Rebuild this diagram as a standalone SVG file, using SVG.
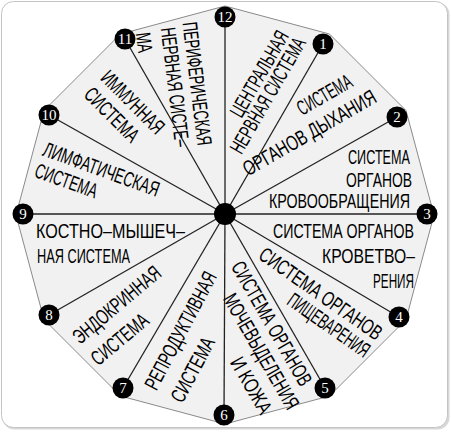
<svg xmlns="http://www.w3.org/2000/svg" width="451" height="432" viewBox="0 0 451 432">
<style>
.t{font-family:"Liberation Sans","DejaVu Sans",sans-serif;font-size:21px;fill:#000}
.m{text-anchor:middle}
.n{font-family:"Liberation Serif","DejaVu Serif",serif;font-size:15px;fill:#fff;text-anchor:middle}
.dot{fill:#000}
.spoke{stroke:#222;stroke-width:1.3;fill:none}
</style>
<rect x="2.5" y="2.5" width="447" height="427" rx="12" fill="#d8d8d8"/>
<rect x="1.5" y="1.5" width="446" height="426" rx="12" fill="#fff" stroke="#c4c4c4" stroke-width="1"/>
<polygon id="plate" points="225,6 329.5,34 406,110.5 434,215 406,319.5 329.5,396 225,424 120.5,396 44,319.5 16,215 44,110.5 120.5,34" fill="#f1f1f1" stroke="#8a8a8a" stroke-width="1"/>
<g id="connectors" class="spoke">
<line x1="225" y1="214" x2="225" y2="17"/>
<line x1="225" y1="214" x2="323" y2="44"/>
<line x1="225" y1="214" x2="397" y2="117"/>
<line x1="225" y1="214" x2="427" y2="214"/>
<line x1="225" y1="214" x2="399" y2="317"/>
<line x1="225" y1="214" x2="325" y2="388"/>
<line x1="225" y1="214" x2="224" y2="415"/>
<line x1="225" y1="214" x2="123" y2="388"/>
<line x1="225" y1="214" x2="49" y2="315"/>
<line x1="225" y1="214" x2="23" y2="214"/>
<line x1="225" y1="214" x2="49" y2="115"/>
<line x1="225" y1="214" x2="125" y2="39"/>
</g>
<g id="hub"><circle class="dot" cx="225" cy="214" r="11"/></g>
<g id="v12"><circle class="dot" cx="225" cy="17" r="10.5"/><text class="n" x="225" y="22">12</text></g>
<g id="v1"><circle class="dot" cx="323" cy="44" r="10.5"/><text class="n" x="323" y="49">1</text></g>
<g id="v2"><circle class="dot" cx="397" cy="117" r="10.5"/><text class="n" x="397" y="122">2</text></g>
<g id="v3"><circle class="dot" cx="427" cy="214" r="10.5"/><text class="n" x="427" y="219">3</text></g>
<g id="v4"><circle class="dot" cx="399" cy="317" r="10.5"/><text class="n" x="399" y="322">4</text></g>
<g id="v5"><circle class="dot" cx="325" cy="388" r="10.5"/><text class="n" x="325" y="393">5</text></g>
<g id="v6"><circle class="dot" cx="224" cy="415" r="10.5"/><text class="n" x="224" y="420">6</text></g>
<g id="v7"><circle class="dot" cx="123" cy="388" r="10.5"/><text class="n" x="123" y="393">7</text></g>
<g id="v8"><circle class="dot" cx="49" cy="315" r="10.5"/><text class="n" x="49" y="320">8</text></g>
<g id="v9"><circle class="dot" cx="23" cy="214" r="10.5"/><text class="n" x="23" y="219">9</text></g>
<g id="v10"><circle class="dot" cx="49" cy="115" r="10.5"/><text class="n" x="49" y="120">10</text></g>
<g id="v11"><circle class="dot" cx="125" cy="39" r="10.5"/><text class="n" x="125" y="44">11</text></g>

<g id="s-cns">
<text class="t m" transform="translate(265.5,77.5) rotate(-60)" textLength="96" lengthAdjust="spacingAndGlyphs">ЦЕНТРАЛЬНАЯ</text>
<text class="t m" transform="translate(274,99) rotate(-60)" textLength="130" lengthAdjust="spacingAndGlyphs">НЕРВНАЯ СИСТЕМА</text>
</g>
<g id="s-resp">
<text class="t m" transform="translate(328,101) rotate(-30)" textLength="60" lengthAdjust="spacingAndGlyphs">СИСТЕМА</text>
<text class="t m" transform="translate(313,139) rotate(-30)" textLength="150" lengthAdjust="spacingAndGlyphs">ОРГАНОВ ДЫХАНИЯ</text>
</g>
<g id="s-circ">
<text class="t" x="348" y="164" textLength="62" lengthAdjust="spacingAndGlyphs">СИСТЕМА</text>
<text class="t" x="346" y="187" textLength="66" lengthAdjust="spacingAndGlyphs">ОРГАНОВ</text>
<text class="t" x="269" y="208" textLength="141" lengthAdjust="spacingAndGlyphs">КРОВООБРАЩЕНИЯ</text>
</g>
<g id="s-hema">
<text class="t" x="273" y="238" textLength="141" lengthAdjust="spacingAndGlyphs">СИСТЕМА ОРГАНОВ</text>
<text class="t" x="322" y="263" textLength="93" lengthAdjust="spacingAndGlyphs">КРОВЕТВО–</text>
<text class="t" x="373" y="288" textLength="41" lengthAdjust="spacingAndGlyphs">РЕНИЯ</text>
</g>
<g id="s-dig">
<text class="t m" transform="translate(316.7,299.6) rotate(35)" textLength="145" lengthAdjust="spacingAndGlyphs">СИСТЕМА ОРГАНОВ</text>
<text class="t m" transform="translate(324.7,331) rotate(35)" textLength="95" lengthAdjust="spacingAndGlyphs">ПИЩЕВАРЕНИЯ</text>
</g>
<g id="s-excr">
<text class="t m" transform="translate(265.5,327) rotate(60)" textLength="140" lengthAdjust="spacingAndGlyphs">СИСТЕМА ОРГАНОВ</text>
<text class="t m" transform="translate(255,355) rotate(60)" textLength="130" lengthAdjust="spacingAndGlyphs">МОЧЕВЫДЕЛЕНИЯ</text>
<text class="t m" transform="translate(245,389) rotate(60)" textLength="62" lengthAdjust="spacingAndGlyphs">И КОЖА</text>
</g>
<g id="s-repr">
<text class="t m" transform="translate(187,334) rotate(-62)" textLength="130" lengthAdjust="spacingAndGlyphs">РЕПРОДУКТИВНАЯ</text>
<text class="t m" transform="translate(199,373) rotate(-62)" textLength="70" lengthAdjust="spacingAndGlyphs">СИСТЕМА</text>
</g>
<g id="s-endo">
<text class="t m" transform="translate(121.3,310.2) rotate(-40)" textLength="108" lengthAdjust="spacingAndGlyphs">ЭНДОКРИННАЯ</text>
<text class="t m" transform="translate(124.3,344.7) rotate(-40)" textLength="68" lengthAdjust="spacingAndGlyphs">СИСТЕМА</text>
</g>
<g id="s-musc">
<text class="t" x="36" y="238" textLength="149" lengthAdjust="spacingAndGlyphs">КОСТНО–МЫШЕЧ–</text>
<text class="t" x="37" y="263" textLength="93" lengthAdjust="spacingAndGlyphs">НАЯ СИСТЕМА</text>
</g>
<g id="s-lymph">
<text class="t m" transform="translate(98.9,176) rotate(20)" textLength="122" lengthAdjust="spacingAndGlyphs">ЛИМФАТИЧЕСКАЯ</text>
<text class="t m" transform="translate(63.9,187.5) rotate(20)" textLength="65" lengthAdjust="spacingAndGlyphs">СИСТЕМА</text>
</g>
<g id="s-imm">
<text class="t m" transform="translate(127.7,107.3) rotate(45)" textLength="80" lengthAdjust="spacingAndGlyphs">ИММУННАЯ</text>
<text class="t m" transform="translate(106.7,119.8) rotate(45)" textLength="68" lengthAdjust="spacingAndGlyphs">СИСТЕМА</text>
</g>
<g id="s-pns">
<text class="t m" transform="translate(190,84.5) rotate(83)" textLength="124" lengthAdjust="spacingAndGlyphs">ПЕРИФЕРИЧЕСКАЯ</text>
<text class="t m" transform="translate(168,88) rotate(83)" textLength="120" lengthAdjust="spacingAndGlyphs">НЕРВНАЯ СИСТЕ–</text>
<text class="t m" transform="translate(137,43.5) rotate(83)" textLength="20" lengthAdjust="spacingAndGlyphs">МА</text>
</g>
</svg>
